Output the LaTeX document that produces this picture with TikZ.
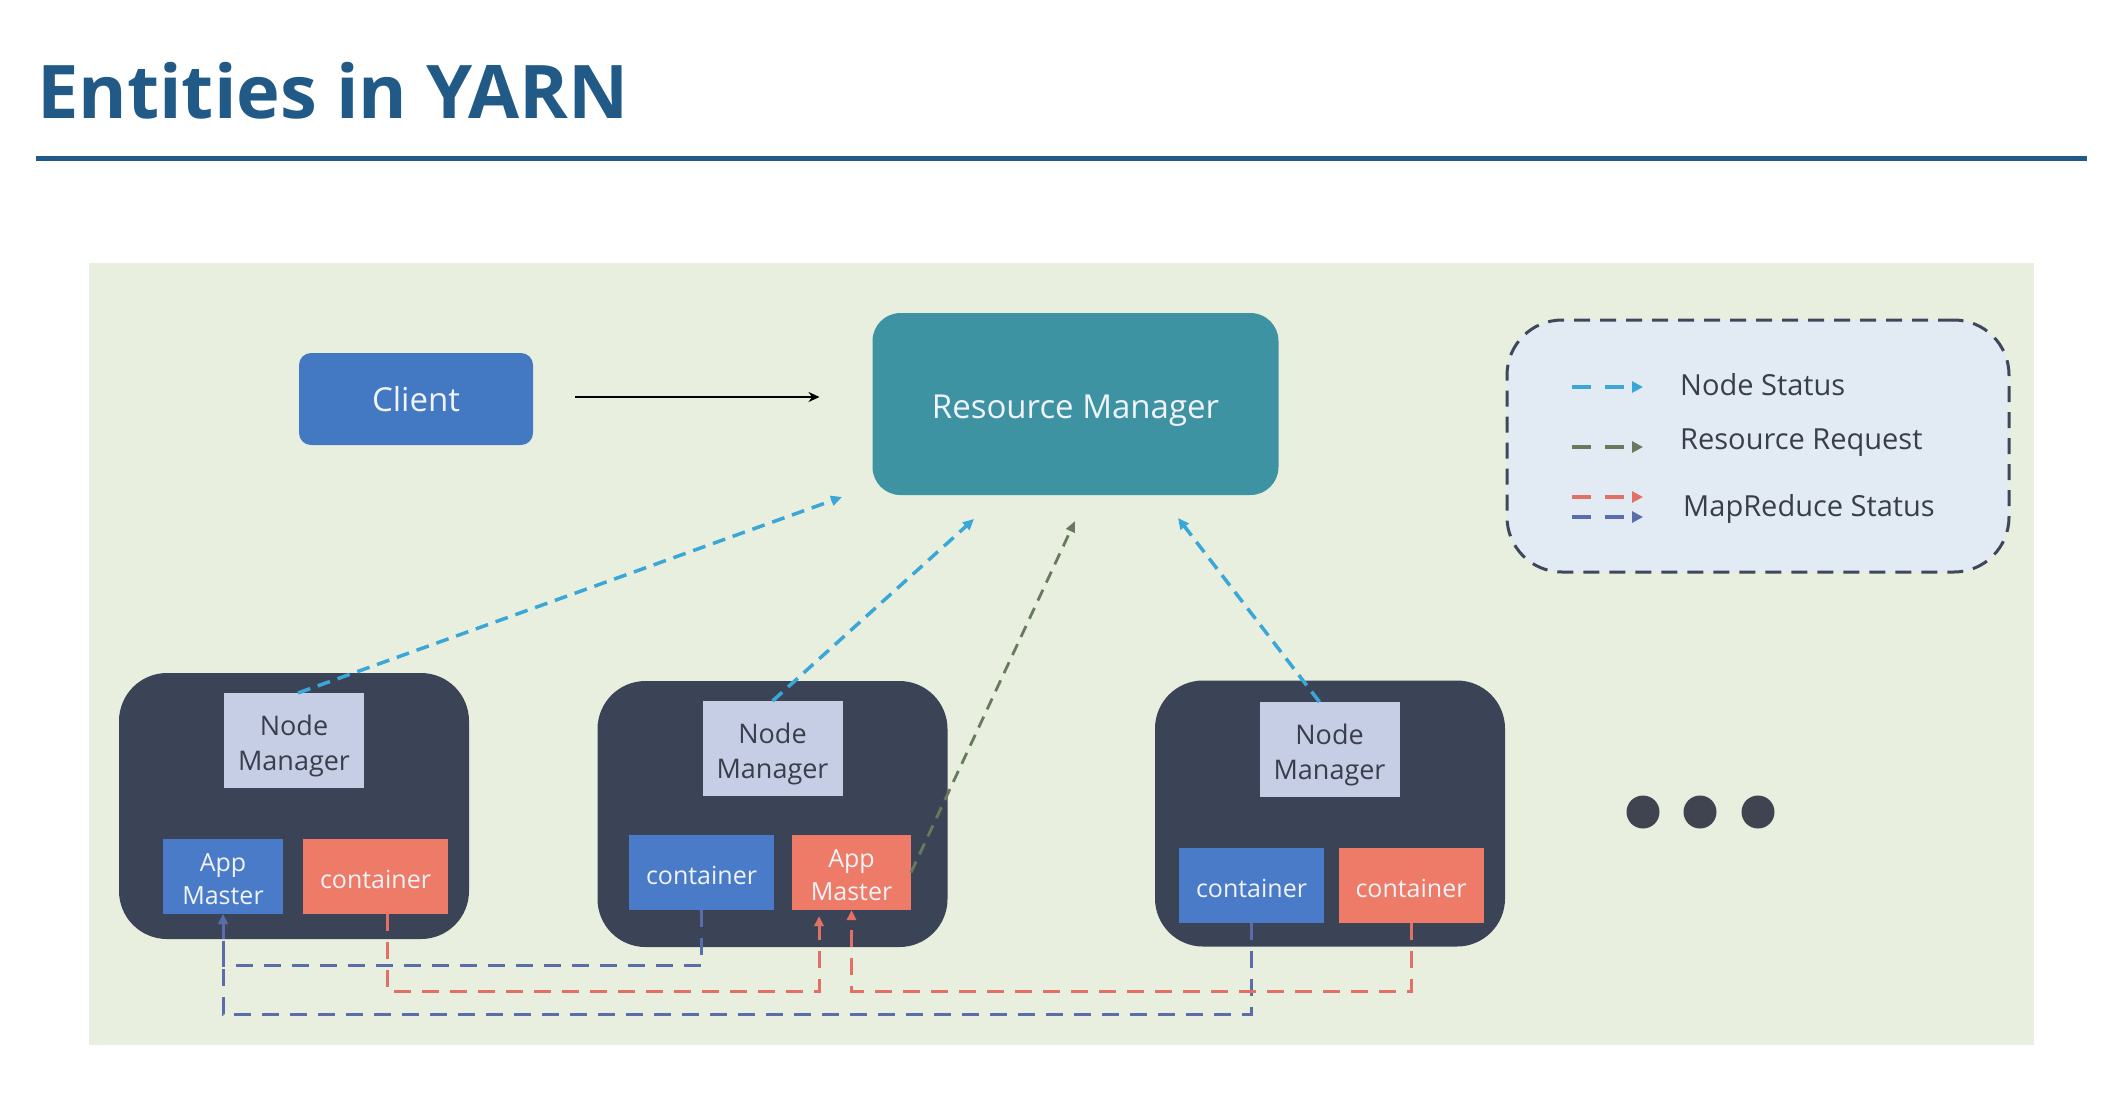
\documentclass[tikz,border=0pt]{standalone}
\usepackage{fontspec}
\setmainfont{Open Sans}
\usetikzlibrary{arrows.meta}
\definecolor{titleblue}{RGB}{33,90,135}
\definecolor{panel}{RGB}{232,239,223}
\definecolor{clientblue}{RGB}{66,121,194}
\definecolor{rmteal}{RGB}{62,147,163}
\definecolor{legfill}{RGB}{226,234,244}
\definecolor{legline}{RGB}{62,72,90}
\definecolor{nodedark}{RGB}{59,68,87}
\definecolor{nmfill}{RGB}{198,206,230}
\definecolor{nmtext}{RGB}{58,62,75}
\definecolor{boxblue}{RGB}{74,123,200}
\definecolor{boxred}{RGB}{238,123,103}
\definecolor{boxtext}{RGB}{240,243,248}
\definecolor{cyanline}{RGB}{59,167,216}
\definecolor{greenline}{RGB}{104,122,92}
\definecolor{redline}{RGB}{226,112,100}
\definecolor{blueline}{RGB}{90,108,170}
\definecolor{dotgrey}{RGB}{63,68,80}
\tikzset{
  box/.style={inner sep=0pt, outer sep=0pt, align=center, anchor=center},
  lbl/.style={inner sep=0pt, outer sep=0pt, align=center, anchor=center},
  machine/.style={box, fill=nodedark, rounded corners=48pt, minimum width=350pt, minimum height=266pt},
  nmbox/.style={box, fill=nmfill, minimum width=140pt, minimum height=95pt},
  nmlbl/.style={lbl, text=nmtext, font=\fontsize{27}{35}\selectfont},
  bluebox/.style={box, fill=boxblue, minimum width=145pt, minimum height=75pt},
  redbox/.style={box, fill=boxred, minimum width=145pt, minimum height=75pt},
  smlbl/.style={lbl, text=boxtext, font=\fontsize{25}{33}\selectfont},
  nsline/.style={cyanline, line width=3.5pt, dash pattern=on 13pt off 8pt,
     -{Triangle[length=11pt,width=10pt]}},
  rrline/.style={greenline, line width=2.8pt, dash pattern=on 12pt off 8pt,
     -{Triangle[length=11pt,width=9pt]}},
  mrred/.style={redline, line width=3pt, dash pattern=on 17pt off 11pt,
     -{Triangle[length=10pt,width=9pt]}},
  mrblue/.style={blueline, line width=3pt, dash pattern=on 17pt off 11pt,
     -{Triangle[length=10pt,width=9pt]}},
  legarrow/.style={line width=3.5pt, dash pattern=on 19pt off 14pt,
     -{Triangle[length=11pt,width=11pt]}},
  legtext/.style={anchor=west, inner sep=0pt, text=nmtext, font=\fontsize{29}{34}\selectfont},
  dotnode/.style={circle, fill=dotgrey, inner sep=0pt, minimum size=33pt}
}
\begin{document}
\begin{tikzpicture}[x=1pt,y=-1pt]
\useasboundingbox (0,0) rectangle (2104,1096);
\fill[white] (0,0) rectangle (2104,1096);

% title
\node[anchor=base west, inner sep=0pt, text=titleblue, font=\bfseries\fontsize{74}{80}\selectfont] (title) at (37,118) {Entities in YARN};
\coordinate (rulel) at (36,158);
\coordinate (ruler) at (2087,158);
\draw[titleblue, line width=5pt] (rulel) -- (ruler);

% panel
\fill[panel] (89,263) rectangle (2034,1045);

% client and resource manager
\node[box, fill=clientblue, text=boxtext, rounded corners=12pt, minimum width=234pt, minimum height=92pt,
  font=\fontsize{33}{40}\selectfont] (client) at (416,399) {Client};
\node[box, fill=rmteal, rounded corners=28pt, minimum width=406pt, minimum height=182pt] (rm) at (1075.5,404) {};
\node[lbl, text=boxtext, font=\fontsize{33}{40}\selectfont] (rmlbl) at ([yshift=-7pt]rm.center) {Resource Manager};
\draw[black, line width=2.8pt, -{Stealth[length=11pt,width=10pt]}, shorten <=42pt, shorten >=53pt]
  ([yshift=2pt]client.east) -- ([yshift=2pt]client.east -| rm.west);

% legend
\node[box, fill=legfill, draw=legline, line width=3pt, dash pattern=on 16pt off 10pt,
  rounded corners=55pt, minimum width=502pt, minimum height=252pt] (legend) at (1758,446) {};
\coordinate (l1a) at (1572,387); \coordinate (l1b) at (1643,387);
\coordinate (l2a) at (1572,447); \coordinate (l2b) at (1643,447);
\coordinate (l3a) at (1572,497); \coordinate (l3b) at (1643,497);
\coordinate (l4a) at (1572,517); \coordinate (l4b) at (1643,517);
\draw[legarrow, cyanline] (l1a) -- (l1b);
\draw[legarrow, greenline] (l2a) -- (l2b);
\draw[legarrow, redline] (l3a) -- (l3b);
\draw[legarrow, blueline] (l4a) -- (l4b);
\node[legtext] (lt1) at (1680,385) {Node Status};
\node[legtext] (lt2) at (1680,443) {Resource Request};
\node[legtext] (lt3) at (1683,509) {MapReduce Status};

% machines
\node[machine] (n1) at (294,806) {};
\node[machine] (n2) at (772.5,814) {};
\node[machine] (n3) at (1330,813.5) {};

\node[nmbox] (nm1) at (294,740.5) {};
\node[nmbox] (nm2) at (772.5,748.5) {};
\node[nmbox] (nm3) at (1329.5,749.5) {};
\node[nmlbl] (nm1l) at ([yshift=-5pt]nm1.center) {Node\\Manager};
\node[nmlbl] (nm2l) at ([yshift=-5pt]nm2.center) {Node\\Manager};
\node[nmlbl] (nm3l) at ([yshift=-5pt]nm3.center) {Node\\Manager};

\node[bluebox, minimum width=120pt] (am1) at (223,876.5) {};
\node[redbox] (c1) at (375.5,876) {};
\node[bluebox] (c2) at (701.5,872.5) {};
\node[redbox, minimum width=119pt] (am2) at (851.5,872.5) {};
\node[bluebox] (c3b) at (1251.5,885) {};
\node[redbox] (c3r) at (1411,885) {};
\node[smlbl] (am1l) at ([yshift=-3pt]am1.center) {App\\Master};
\node[smlbl] (c1l) at ([yshift=-3pt]c1.center) {container};
\node[smlbl] (c2l) at ([yshift=-3pt]c2.center) {container};
\node[smlbl] (am2l) at ([yshift=-3pt]am2.center) {App\\Master};
\node[smlbl] (c3bl) at ([yshift=-3pt]c3b.center) {container};
\node[smlbl] (c3rl) at ([yshift=-3pt]c3r.center) {container};

% dots
\node[dotnode] (d1) at (1643,812) {};
\node[dotnode] (d2) at (1700,812) {};
\node[dotnode] (d3) at (1758,812) {};

% node status / resource request arrows
\coordinate (t1) at (842,497);
\coordinate (t2) at (974,519);
\coordinate (t3) at (1178,518);
\coordinate (t4) at (1075,521);
\draw[nsline] ([xshift=4pt]nm1.north) -- (t1);
\draw[nsline] (nm2.north) -- (t2);
\draw[nsline] ([xshift=-10pt]nm3.north) -- (t3);
\draw[rrline] (am2.east) -- (t4);

% MapReduce status lines
\coordinate (yb1) at (0,965);
\coordinate (yb2) at (0,1014);
\coordinate (yr) at (0,991);
\coordinate (am2in) at ([xshift=-32.5pt]am2.south);
\coordinate (c1out) at ([xshift=12pt]c1.south);
\draw[mrblue] (c2.south) -- (c2.south |- yb1) -- (am1.south |- yb1) -- (am1.south);
\draw[mrblue] (c3b.south) -- (c3b.south |- yb2) -- (am1.south |- yb2) -- (am1.south);
\draw[mrred, shorten >=6pt] (c1out) -- (c1out |- yr) -- (am2in |- yr) -- (am2in);
\draw[mrred] (c3r.south) -- (c3r.south |- yr) -- (am2.south |- yr) -- (am2.south);
\end{tikzpicture}
\end{document}
